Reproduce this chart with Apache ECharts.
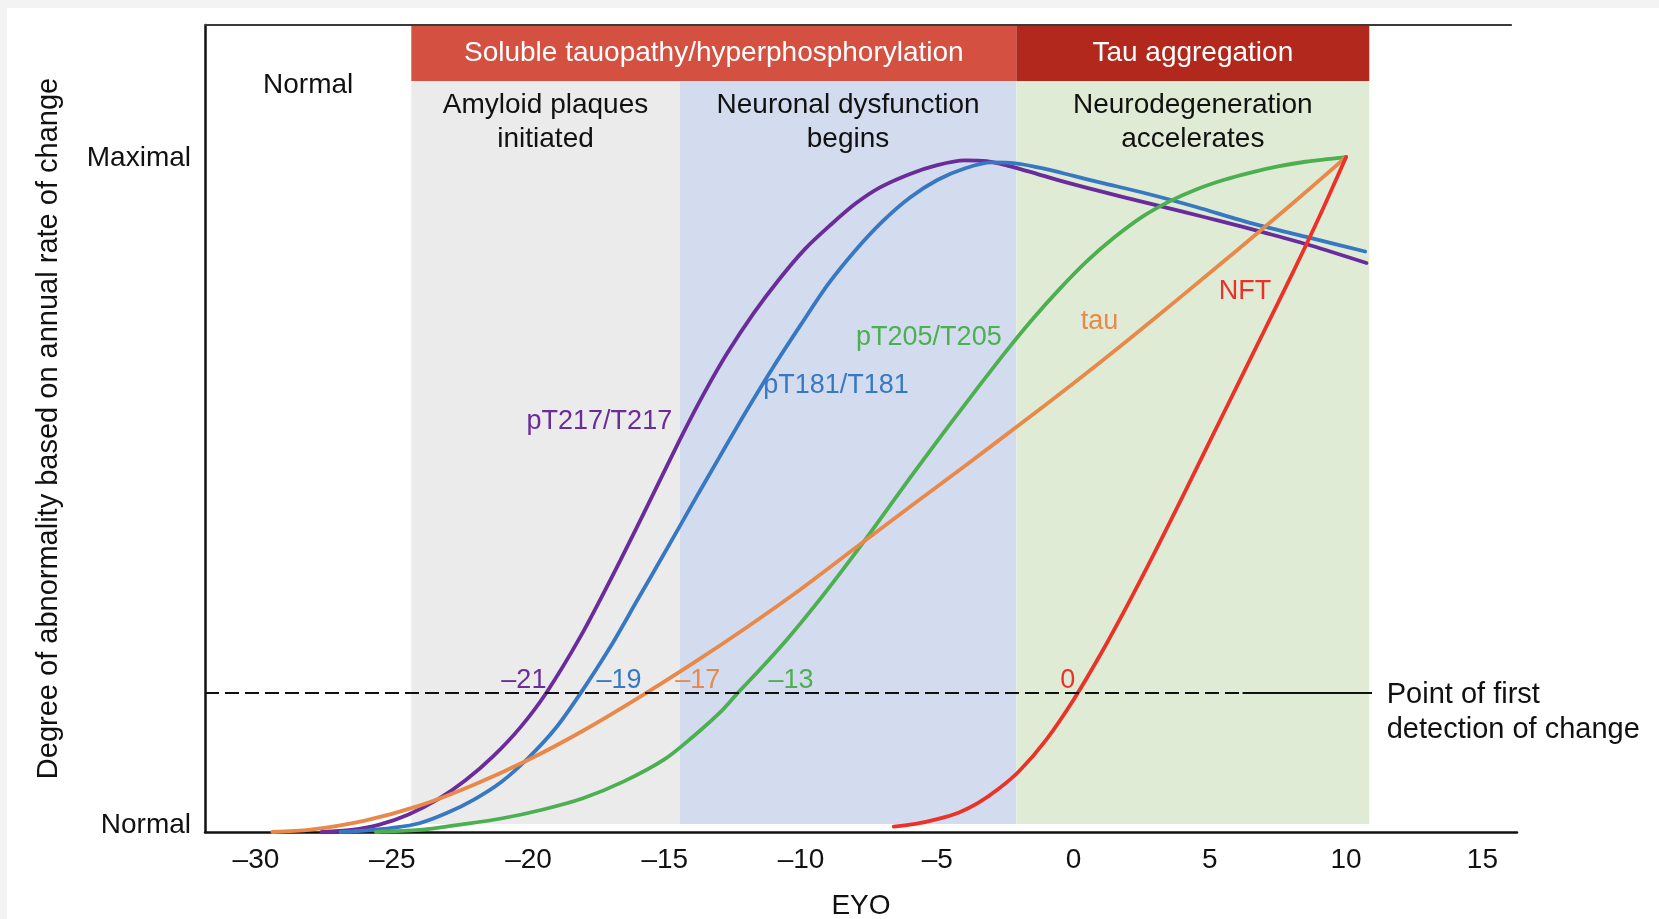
<!DOCTYPE html>
<html>
<head>
<meta charset="utf-8">
<script src="https://cdn.jsdelivr.net/npm/echarts@6/dist/echarts.min.js"></script>
<style>
  html, body { margin: 0; padding: 0; background: #f3f3f3; }
  #chart { position: absolute; left: 7px; top: 8px; width: 1652px; height: 911px; background: #ffffff; }
</style>
</head>
<body>
<div id="chart"></div>
<script>
// ---------------- DATA ----------------
const xTicks = [-30, -25, -20, -15, -10, -5, 0, 5, 10, 15];
const yTickValues = [0, 1];
const yTickNames = ['Normal', 'Maximal'];
const xRange = [-31.87, 16.27];
const yRange = [0, 1.1956];
const detectionLevel = 0.2064;

// Stage boundaries (EYO)
const stageEdges = [-24.3, -14.45, -2.1, 10.85];
const stageNames = ['Amyloid plaques\ninitiated', 'Neuronal dysfunction\nbegins', 'Neurodegeneration\naccelerates'];
const phaseNames = ['Soluble tauopathy/hyperphosphorylation', 'Tau aggregation'];

// Curves [EYO, degree of abnormality]
const pT217 = [[-27.6,0],[-26.5,0.003],[-25.5,0.0105],[-24.4,0.026],[-23.3,0.049],[-22.3,0.077],[-21.3,0.112],[-20.3,0.155],[-19.35,0.206],[-18.1,0.289],[-16.9,0.381],[-15.7,0.478],[-14.45,0.581],[-13.6,0.647],[-12.7,0.71],[-11.75,0.768],[-10.8,0.819],[-9.85,0.864],[-8.9,0.9],[-8,0.931],[-7.1,0.955],[-6,0.975],[-5,0.988],[-4,0.995],[-3.2,0.994],[-2.4,0.987],[-1.5,0.977],[-0.5,0.965],[1,0.949],[2.5,0.934],[4,0.919],[5.5,0.904],[7,0.888],[8.7,0.869],[10.75,0.843]];
const pT181 = [[-26.9,0],[-26,0.002],[-25,0.006],[-24,0.013],[-23,0.028],[-22,0.048],[-21,0.074],[-20,0.11],[-19,0.154],[-18.1,0.205],[-17,0.274],[-16,0.344],[-15,0.414],[-14,0.485],[-13,0.555],[-12,0.624],[-11,0.69],[-10,0.752],[-9,0.812],[-8,0.862],[-7,0.905],[-6,0.94],[-5,0.966],[-4,0.983],[-3,0.992],[-2,0.99],[-1,0.982],[0,0.972],[1,0.962],[2.67,0.946],[4.5,0.926],[6.34,0.904],[8.5,0.882],[10.7,0.86]];
const pT205 = [[-25.6,0],[-24,0.003],[-22.5,0.011],[-21,0.02],[-19.5,0.033],[-18,0.05],[-16.5,0.075],[-15,0.108],[-14,0.14],[-13,0.176],[-12.32,0.206],[-11.5,0.241],[-10.5,0.286],[-9.5,0.335],[-8.5,0.387],[-7.5,0.441],[-6.5,0.497],[-5.5,0.552],[-4.5,0.606],[-3.5,0.659],[-2.5,0.711],[-1.5,0.76],[-0.5,0.805],[0.5,0.846],[1.5,0.881],[2.5,0.911],[3.5,0.934],[4.5,0.952],[5.5,0.966],[6.5,0.977],[7.5,0.986],[8.5,0.993],[10,1.0]];
const tau = [[-29.4,0],[-28,0.0035],[-26,0.017],[-24,0.039],[-22,0.07],[-20,0.107],[-18,0.15],[-16,0.198],[-14,0.249],[-12,0.303],[-10,0.36],[-8,0.421],[-6,0.482],[-4,0.542],[-2,0.603],[0,0.665],[2,0.729],[4,0.795],[6,0.862],[8,0.93],[10,1.0]];
const nft = [[-6.6,0.008],[-5.8,0.012],[-5,0.019],[-4.2,0.029],[-3.5,0.043],[-2.75,0.064],[-2,0.09],[-1,0.137],[0,0.196],[1,0.264],[2,0.338],[3,0.416],[4,0.497],[5,0.579],[6,0.661],[7,0.743],[8,0.825],[9,0.91],[10,1.0]];

const seriesNames = ['pT217/T217', 'pT181/T181', 'pT205/T205', 'tau', 'NFT'];
// label positions [EYO, degree]
const nameLabelPos = [[-17.4,0.608],[-8.72,0.662],[-5.31,0.733],[0.95,0.756],[6.29,0.8]];
const detectLabels = ['\u201321', '\u201319', '\u201317', '\u201313', '0'];
const detectLabelSeries = [0, 1, 3, 2, 4];
const detectLabelPos = [[-20.17,0.225],[-16.68,0.225],[-13.79,0.225],[-10.37,0.225],[-0.21,0.225]];
const noteText = 'Point of first\ndetection of change';
const notePos = [11.49, 0.1775];

// ---------------- STYLES ----------------
const FONT = '"Liberation Sans", Arial, Helvetica, sans-serif';
const curveColors = ['#6a2c9a', '#3778c2', '#4caf50', '#e8894a', '#eb3228'];
const stageColors = ['#ebebeb', '#d3dcee', '#e0ebd5'];
const phaseColors = ['#d45040', '#b3281c'];
const TXT = '#111111';

const bandBottom = 0.0119, bandTop = 1.1126, phaseTop = 1.194;

const areas = [];
for (let i = 0; i < 3; i++) {
  areas.push([{ coord: [stageEdges[i], bandBottom], itemStyle: { color: stageColors[i] } },
              { coord: [stageEdges[i + 1], bandTop] }]);
}
areas.push([{ coord: [stageEdges[0], bandTop], itemStyle: { color: phaseColors[0] } }, { coord: [stageEdges[2], phaseTop] }]);
areas.push([{ coord: [stageEdges[2], bandTop], itemStyle: { color: phaseColors[1] } }, { coord: [stageEdges[3], phaseTop] }]);

const curves = [pT217, pT181, pT205, tau, nft];
const curveSeries = curves.map((d, i) => ({
  type: 'line', name: seriesNames[i], data: d, smooth: 0.3, showSymbol: false, symbol: 'none',
  lineStyle: { color: curveColors[i], width: 3.8, cap: 'round', join: 'round' }, z: 3, silent: true, animation: false
}));

const mid = (a, b) => (a + b) / 2;
const headerData = [
  { value: [mid(xRange[0], stageEdges[0]), 1.106, 'Normal'], label: { color: TXT } },
  { value: [mid(stageEdges[0], stageEdges[2]), 1.1533, phaseNames[0]], label: { color: '#ffffff' } },
  { value: [mid(stageEdges[2], stageEdges[3]), 1.1533, phaseNames[1]], label: { color: '#ffffff' } },
  { value: [mid(stageEdges[0], stageEdges[1]), 1.0519, stageNames[0]], label: { color: TXT } },
  { value: [mid(stageEdges[1], stageEdges[2]), 1.0519, stageNames[1]], label: { color: TXT } },
  { value: [mid(stageEdges[2], stageEdges[3]), 1.0519, stageNames[2]], label: { color: TXT } }
];

const nameData = seriesNames.map((n, i) => ({ value: [nameLabelPos[i][0], nameLabelPos[i][1], n], label: { color: curveColors[i] } }));
const detData = detectLabels.map((n, i) => ({ value: [detectLabelPos[i][0], detectLabelPos[i][1], n], label: { color: curveColors[detectLabelSeries[i]] } }));

const textSeries = (data, label) => ({
  type: 'scatter', symbolSize: 0, z: 5, silent: true, data: data,
  itemStyle: { opacity: 1 },
  emphasis: { disabled: true },
  label: Object.assign({ show: true, formatter: p => p.value[2], fontFamily: FONT }, label)
});

const option = {
  animation: false,
  grid: { left: 198, top: 17, right: 142, bottom: 87, containLabel: false, outerBoundsMode: 'none' },
  xAxis: {
    type: 'value', min: xRange[0], max: xRange[1],
    name: 'EYO', nameLocation: 'middle', nameGap: 60,
    nameTextStyle: { fontFamily: FONT, fontSize: 28, color: TXT },
    axisLine: { show: true, onZero: false, lineStyle: { color: '#111', width: 2.5 } },
    axisTick: { show: false },
    splitLine: { show: false },
    axisLabel: {
      customValues: xTicks, margin: 14, fontFamily: FONT, fontSize: 28, color: TXT,
      formatter: v => v < 0 ? '\u2013' + Math.abs(v) : String(v)
    }
  },
  yAxis: {
    type: 'value', min: yRange[0], max: yRange[1],
    name: 'Degree of abnormality based on annual rate of change',
    nameLocation: 'middle', nameRotate: 90, nameGap: 142,
    nameTextStyle: { fontFamily: FONT, fontSize: 29, color: TXT },
    axisLine: { show: true, onZero: false, lineStyle: { color: '#111', width: 2.5 } },
    axisTick: { show: false },
    splitLine: { show: false },
    axisLabel: {
      customValues: yTickValues, margin: 14, fontFamily: FONT, fontSize: 28, color: TXT,
      formatter: v => v === 0 ? '{n|' + yTickNames[0] + '}' : '{m|' + yTickNames[1] + '}',
      rich: {
        n: { fontFamily: FONT, fontSize: 28, color: TXT, padding: [0, 0, 13, 0] },
        m: { fontFamily: FONT, fontSize: 28, color: TXT, padding: [3, 0, 0, 0] }
      }
    }
  },
  series: [
    {
      type: 'line', data: [], z: 1, silent: true,
      markArea: { silent: true, data: areas, itemStyle: { borderWidth: 0 } }
    },
    ...curveSeries,
    {
      type: 'line', data: [], z: 4, silent: true,
      markLine: {
        silent: true, symbol: ['none', 'none'], label: { show: false },
        data: [
          [{ coord: [xRange[0], yRange[1]], lineStyle: { color: '#3a3a3a', width: 2, type: 'solid' } }, { coord: [16.08, yRange[1]] }],
          [{ coord: [xRange[0], 1], lineStyle: { color: '#3a3a3a', width: 2, type: 'solid' } }, { coord: [16.3, 1] }],
          [{ coord: [xRange[0], detectionLevel], lineStyle: { color: '#111', width: 2, type: [14, 6] } }, { coord: [6.2, detectionLevel] }],
          [{ coord: [6.2, detectionLevel], lineStyle: { color: '#111', width: 2, type: 'solid' } }, { coord: [10.95, detectionLevel] }]
        ]
      }
    },
    textSeries(headerData, { position: 'inside', fontSize: 28, lineHeight: 34, align: 'center', verticalAlign: 'middle' }),
    textSeries(nameData, { position: 'inside', fontSize: 27, align: 'center', verticalAlign: 'middle' }),
    textSeries(detData, { position: 'inside', fontSize: 27, align: 'center', verticalAlign: 'middle' }),
    textSeries([{ value: [notePos[0], notePos[1], noteText] }],
      { position: [0, 0], fontSize: 29, lineHeight: 35, color: TXT, align: 'left', verticalAlign: 'middle' })
  ]
};

const chart = echarts.init(document.getElementById('chart'), null, { renderer: 'canvas' });
chart.setOption(option);
</script>
</body>
</html>
